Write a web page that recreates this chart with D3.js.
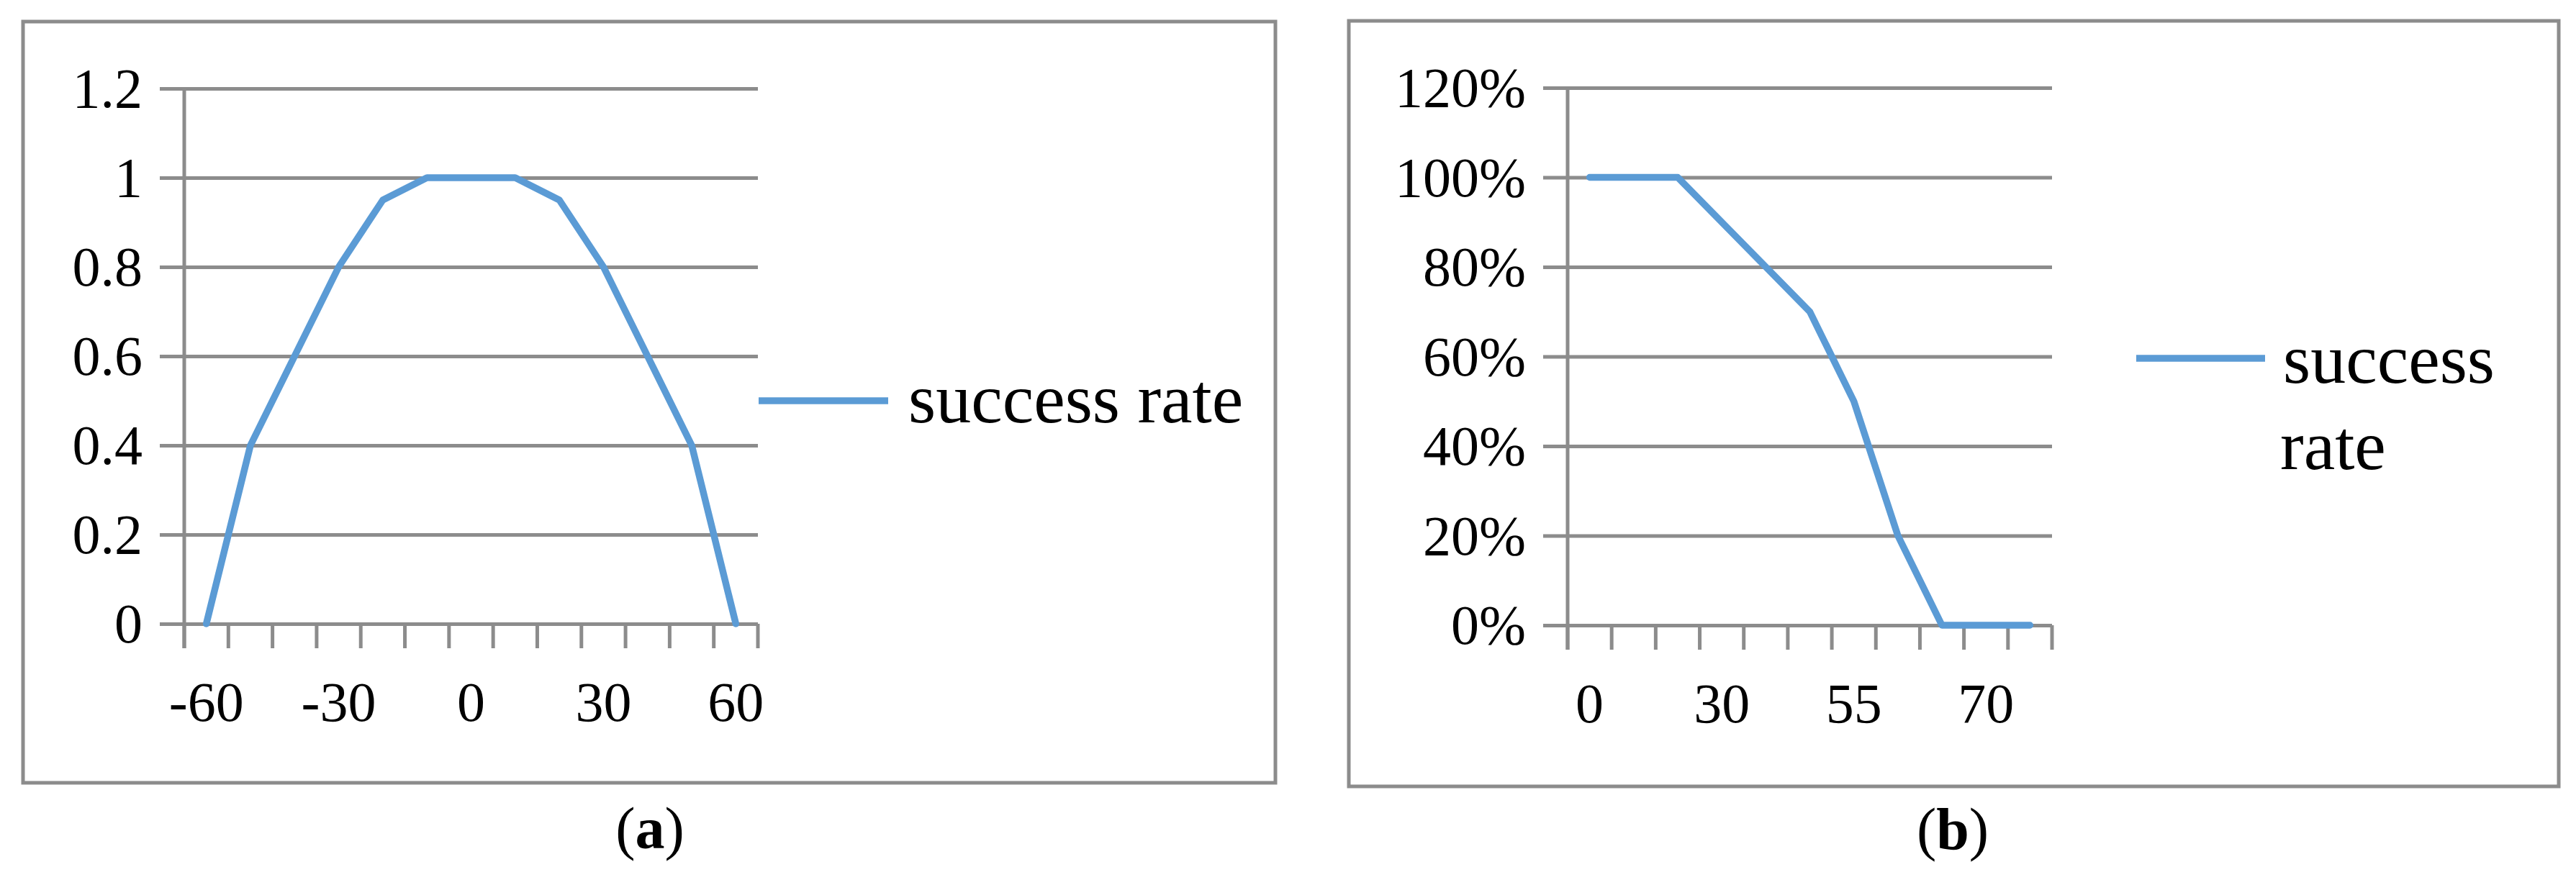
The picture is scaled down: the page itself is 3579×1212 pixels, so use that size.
<!DOCTYPE html>
<html>
<head>
<meta charset="utf-8">
<script src="https://cdn.jsdelivr.net/npm/d3@7"></script>
<style>
    body { margin: 0; background: #fff; }
    svg { display: block; }
    .tick-label { font-family: "Liberation Serif", "Times New Roman", serif; fill: #000; }
</style>
</head>
<body>
<div id="chart"></div>
<script>
// Panel (a): success rate vs angle
const anglesA = [-60, -50, -40, -30, -20, -10, 0, 10, 20, 30, 40, 50, 60];
const rateA = [0, 0.4, 0.6, 0.8, 0.95, 1, 1, 1, 0.95, 0.8, 0.6, 0.4, 0];
const yTicksA = [0, 0.2, 0.4, 0.6, 0.8, 1, 1.2];
const yLabelsA = ["0", "0.2", "0.4", "0.6", "0.8", "1", "1.2"];
const xLabelsA = [-60, -30, 0, 30, 60];

// Panel (b): success rate vs distance
const distB = [0, 10, 20, 30, 40, 50, 55, 60, 65, 70, 75];
const rateB = [1, 1, 1, 0.9, 0.8, 0.7, 0.5, 0.2, 0, 0, 0];
const yTicksB = [0, 0.2, 0.4, 0.6, 0.8, 1, 1.2];
const yLabelsB = ["0%", "20%", "40%", "60%", "80%", "100%", "120%"];
const xLabelsB = [0, 30, 55, 70];

const W = 3579, H = 1212;
const gridColor = '#8c8c8c';
const lineColor = '#5b9bd5';
const font = '"Liberation Serif", "Times New Roman", serif';

const svg = d3.select('#chart')
    .append('svg')
    .attr('width', W)
    .attr('height', H);

svg.append('rect').attr('width', W).attr('height', H).attr('fill', '#fff');

function drawPanel(cfg) {
    // outer frame
    svg.append('rect')
        .attr('x', cfg.box[0]).attr('y', cfg.box[1])
        .attr('width', cfg.box[2] - cfg.box[0])
        .attr('height', cfg.box[3] - cfg.box[1])
        .attr('fill', 'none')
        .attr('stroke', gridColor)
        .attr('stroke-width', 5);

    const x = d3.scaleBand()
        .domain(cfg.cats)
        .range([cfg.left, cfg.right])
        .padding(0);

    const y = d3.scaleLinear()
        .domain([0, 1.2])
        .range([cfg.bottom, cfg.top]);

    // gridlines + y labels
    const yAxis = svg.append('g')
        .attr('transform', `translate(${cfg.left - 34}, 0)`)
        .call(d3.axisRight(y)
            .tickValues(cfg.yTicks)
            .tickSize(cfg.right - cfg.left + 34)
            .tickFormat((d, i) => cfg.yLabels[i]));
    yAxis.select('.domain').remove();
    yAxis.selectAll('.tick line')
        .attr('stroke', gridColor)
        .attr('stroke-width', 5);
    yAxis.selectAll('.tick text')
        .attr('x', -24)
        .attr('dy', '0.33em')
        .attr('text-anchor', 'end')
        .attr('fill', '#000')
        .style('font-family', font)
        .style('font-size', '78px');

    // vertical axis line
    svg.append('line')
        .attr('x1', cfg.left).attr('x2', cfg.left)
        .attr('y1', cfg.top).attr('y2', cfg.bottom + 34)
        .attr('stroke', gridColor)
        .attr('stroke-width', 5);

    // category tick marks at band edges
    const edges = cfg.cats.map(c => x(c)).concat([cfg.right]);
    svg.append('g')
        .selectAll('line')
        .data(edges)
        .enter()
        .append('line')
        .attr('x1', d => d).attr('x2', d => d)
        .attr('y1', cfg.bottom).attr('y2', cfg.bottom + 34)
        .attr('stroke', gridColor)
        .attr('stroke-width', 5);

    // x labels
    const xAxis = svg.append('g')
        .attr('transform', `translate(0, ${cfg.bottom})`)
        .call(d3.axisBottom(x).tickValues(cfg.xLabels).tickSize(0));
    xAxis.select('.domain').remove();
    xAxis.selectAll('.tick text')
        .attr('y', 135)
        .attr('dy', 0)
        .attr('fill', '#000')
        .style('font-family', font)
        .style('font-size', '78px');

    // data line
    const line = d3.line()
        .x((d, i) => x(cfg.cats[i]) + x.bandwidth() / 2)
        .y(d => y(d));
    svg.append('path')
        .datum(cfg.values)
        .attr('d', line)
        .attr('fill', 'none')
        .attr('stroke', lineColor)
        .attr('stroke-width', 9.5)
        .attr('stroke-linejoin', 'round')
        .attr('stroke-linecap', 'round');

    // legend
    svg.append('line')
        .attr('x1', cfg.legend.x1).attr('x2', cfg.legend.x2)
        .attr('y1', cfg.legend.y).attr('y2', cfg.legend.y)
        .attr('stroke', lineColor)
        .attr('stroke-width', 9.5);
    cfg.legend.lines.forEach(l => {
        svg.append('text')
            .attr('x', l.x).attr('y', l.y)
            .style('font-family', font)
            .style('font-size', '98px')
            .attr('fill', '#000')
            .text(l.text);
    });

    // caption
    const cap = svg.append('text')
        .attr('x', cfg.caption.x).attr('y', cfg.caption.y)
        .attr('text-anchor', 'middle')
        .style('font-family', font)
        .style('font-size', '82px')
        .attr('fill', '#000');
    cap.append('tspan').text('(');
    cap.append('tspan').style('font-weight', 'bold').text(cfg.caption.letter);
    cap.append('tspan').text(')');
}

drawPanel({
    box: [32, 30, 1772, 1088],
    left: 256, right: 1053, top: 123, bottom: 867,
    cats: anglesA, values: rateA,
    yTicks: yTicksA, yLabels: yLabelsA, xLabels: xLabelsA,
    legend: { x1: 1054, x2: 1234, y: 557, lines: [{ text: 'success rate', x: 1262, y: 587 }] },
    caption: { x: 903, y: 1179, letter: 'a' }
});

drawPanel({
    box: [1874, 29, 3555, 1093],
    left: 2178, right: 2851, top: 122, bottom: 869,
    cats: distB, values: rateB,
    yTicks: yTicksB, yLabels: yLabelsB, xLabels: xLabelsB,
    legend: { x1: 2968, x2: 3147, y: 498, lines: [
        { text: 'success', x: 3172, y: 532 },
        { text: 'rate', x: 3168, y: 652 }
    ] },
    caption: { x: 2713, y: 1180, letter: 'b' }
});
</script>
</body>
</html>
